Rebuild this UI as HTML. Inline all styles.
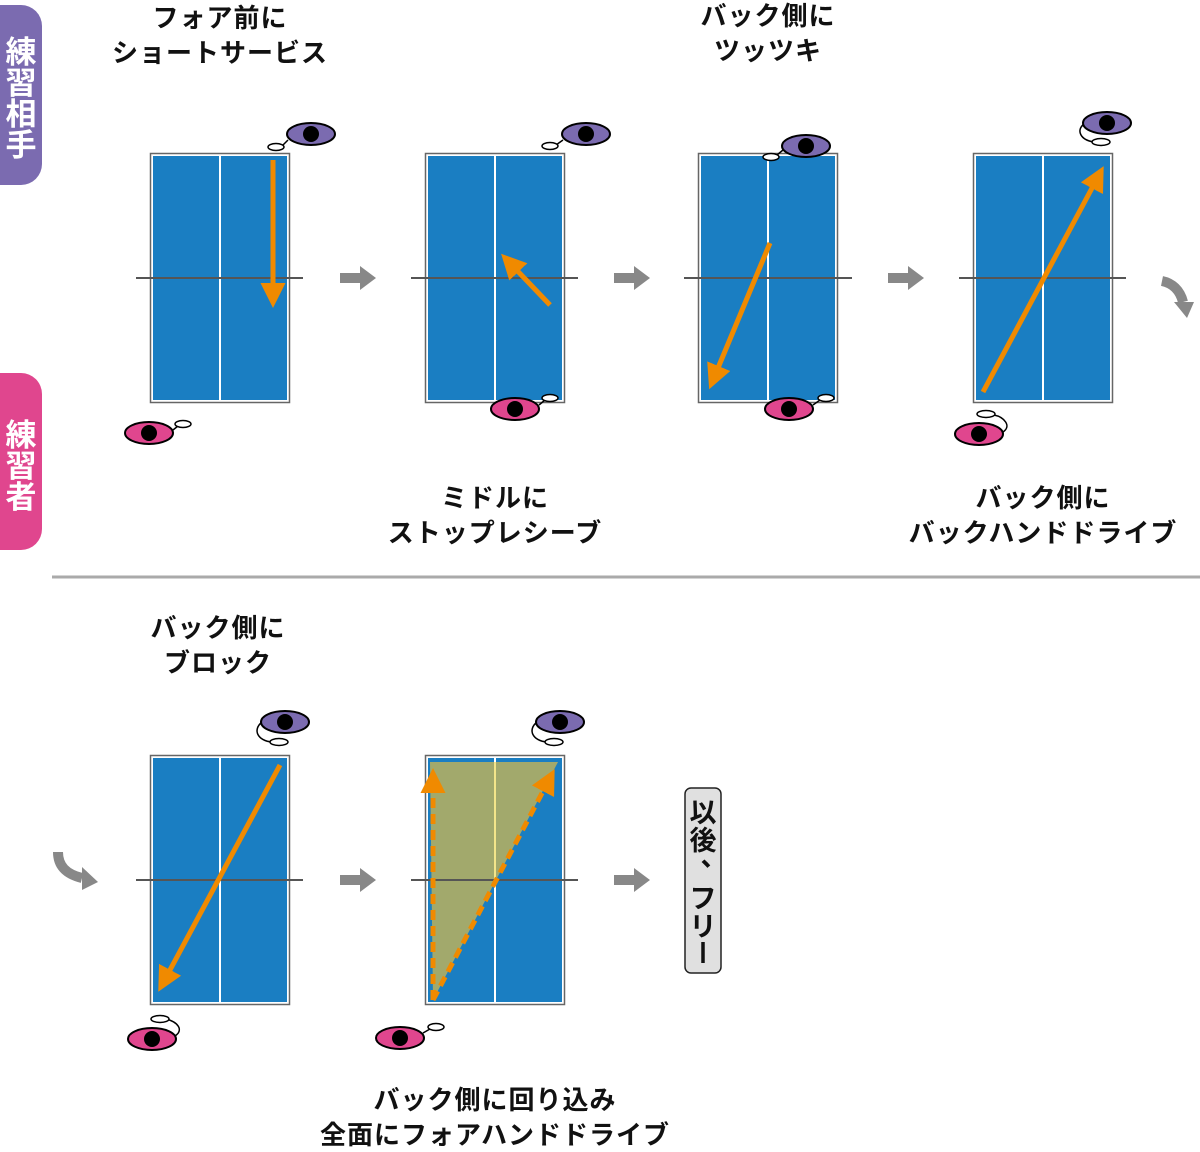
<!DOCTYPE html>
<html><head><meta charset="utf-8"><style>
html,body{margin:0;padding:0;background:#fff;}
svg{display:block}
text{font-family:"Liberation Sans","Noto Sans CJK JP",sans-serif;font-weight:bold;}
</style></head><body>
<svg width="1200" height="1152" viewBox="0 0 1200 1152" xmlns="http://www.w3.org/2000/svg">
<defs>
<g id="tbl">
<rect x="0.5" y="0.5" width="139" height="249" fill="#fff" stroke="#666" stroke-width="1.5"/>
<rect x="3" y="3" width="134" height="244" fill="#1a7ec2"/>
<line x1="70" y1="3" x2="70" y2="247" stroke="#fff" stroke-width="2"/>
</g>
<g id="peye">
<ellipse cx="0" cy="0" rx="24" ry="11" fill="#7b6bb0" stroke="#000" stroke-width="2"/>
<circle cx="0" cy="0" r="8" fill="#000"/>
</g>
<g id="keye">
<ellipse cx="0" cy="0" rx="24" ry="11" fill="#e0468e" stroke="#000" stroke-width="2"/>
<circle cx="0" cy="0" r="8" fill="#000"/>
</g>
<marker id="ah" viewBox="0 0 10 10" refX="6" refY="5" markerWidth="5" markerHeight="5" orient="auto-start-reverse">
<path d="M0,0 L10,5 L0,10 z" fill="#f08a00"/>
</marker>
<g id="garr"><path d="M0,-5 H20 V-12 L36,0 L20,12 V5 H0 z" fill="#888"/></g>
</defs>

<rect x="-20" y="5" width="62" height="180" rx="21" fill="#7b6bb0"/>
<g font-size="31" fill="#fff" text-anchor="middle">
<text x="21" y="63">練</text>
<text x="21" y="94">習</text>
<text x="21" y="125">相</text>
<text x="21" y="156">手</text>
</g>
<rect x="-20" y="373" width="62" height="177" rx="21" fill="#e0468e"/>
<g font-size="31" fill="#fff" text-anchor="middle">
<text x="21" y="446">練</text>
<text x="21" y="477">習</text>
<text x="21" y="508">者</text>
</g>

<line x1="52" y1="577" x2="1200" y2="577" stroke="#aaa" stroke-width="3"/>

<g font-size="26" fill="#111" text-anchor="middle" letter-spacing="1">
<text x="220" y="27">フォア前に</text>
<text x="220" y="62">ショートサービス</text>
<text x="768" y="25">バック側に</text>
<text x="768" y="60">ツッツキ</text>
<text x="495" y="507">ミドルに</text>
<text x="495" y="542">ストップレシーブ</text>
<text x="1043" y="507">バック側に</text>
<text x="1043" y="542">バックハンドドライブ</text>
<text x="218" y="637">バック側に</text>
<text x="218" y="672">ブロック</text>
<text x="495" y="1109">バック側に回り込み</text>
<text x="495" y="1144">全面にフォアハンドドライブ</text>
</g>

<use href="#tbl" x="150" y="153"/>
<use href="#tbl" x="425" y="153"/>
<use href="#tbl" x="698" y="153"/>
<use href="#tbl" x="973" y="153"/>
<use href="#tbl" x="150" y="755"/>
<use href="#tbl" x="425" y="755"/>

<polygon points="433,1000 430,762 558,762" fill="#a2a96c"/>
<line x1="495" y1="762" x2="495" y2="880" stroke="#f3e58a" stroke-width="2"/>

<g stroke="#555" stroke-width="2">
<line x1="136" y1="278" x2="303" y2="278"/>
<line x1="411" y1="278" x2="578" y2="278"/>
<line x1="684" y1="278" x2="852" y2="278"/>
<line x1="959" y1="278" x2="1126" y2="278"/>
<line x1="136" y1="880" x2="303" y2="880"/>
<line x1="411" y1="880" x2="578" y2="880"/>
</g>

<g stroke="#f08a00" stroke-width="5" fill="none" marker-end="url(#ah)">
<line x1="273" y1="160" x2="273" y2="298"/>
<line x1="550" y1="305" x2="508" y2="261"/>
<line x1="770" y1="243" x2="713" y2="380"/>
<line x1="983" y1="392" x2="1099" y2="175"/>
<line x1="280" y1="765" x2="163" y2="983"/>
</g>
<g stroke="#f08a00" stroke-width="5" fill="none" stroke-dasharray="10,6" marker-end="url(#ah)">
<line x1="433" y1="1000" x2="433" y2="778"/>
<line x1="433" y1="1000" x2="550" y2="778"/>
</g>

<g fill="#fff" stroke="#000" stroke-width="1.5">
<path d="M288,140 L282,146" fill="none"/><ellipse cx="276" cy="147" rx="8" ry="3.5"/>
<path d="M173,430 L178,426" fill="none"/><ellipse cx="183" cy="424" rx="8" ry="3.5"/>
<path d="M563,140 L556,145" fill="none"/><ellipse cx="550" cy="146" rx="8" ry="3.5"/>
<path d="M539,405 L545,400" fill="none"/><ellipse cx="550" cy="398" rx="8" ry="3.5"/>
<path d="M783,150 L777,155" fill="none"/><ellipse cx="771" cy="157" rx="8" ry="3.5"/>
<path d="M813,405 L820,400" fill="none"/><ellipse cx="826" cy="398" rx="8" ry="3.5"/>
<path d="M1084,124 C1076,130 1080,140 1094,142" fill="none"/><ellipse cx="1101" cy="142" rx="9" ry="3.5"/>
<path d="M1003,432 C1012,426 1004,417 994,415" fill="none"/><ellipse cx="986" cy="414" rx="9" ry="3.5"/>
<path d="M262,722 C252,730 258,741 272,742" fill="none"/><ellipse cx="279" cy="742" rx="9" ry="3.5"/>
<path d="M175,1036 C184,1030 178,1022 166,1019" fill="none"/><ellipse cx="160" cy="1019" rx="9" ry="3.5"/>
<path d="M537,722 C527,730 533,741 547,742" fill="none"/><ellipse cx="554" cy="742" rx="9" ry="3.5"/>
<path d="M423,1033 L430,1029" fill="none"/><ellipse cx="436" cy="1027" rx="8" ry="3.5"/>
</g>
<use href="#peye" x="311" y="134"/>
<use href="#keye" x="149" y="433"/>
<use href="#peye" x="586" y="134"/>
<use href="#keye" x="515" y="409"/>
<use href="#peye" x="806" y="146"/>
<use href="#keye" x="789" y="409"/>
<use href="#peye" x="1107" y="123"/>
<use href="#keye" x="979" y="434"/>
<use href="#peye" x="285" y="722"/>
<use href="#keye" x="152" y="1039"/>
<use href="#peye" x="560" y="722"/>
<use href="#keye" x="400" y="1038"/>

<use href="#garr" x="340" y="278"/>
<use href="#garr" x="614" y="278"/>
<use href="#garr" x="888" y="278"/>
<use href="#garr" x="340" y="880"/>
<use href="#garr" x="614" y="880"/>
<path d="M1162,281 C1172,283 1180,290 1183,302" stroke="#888" stroke-width="10" fill="none"/>
<path d="M1174,302 L1194,302 L1187,318 z" fill="#888"/>
<path d="M58,852 C58,866 66,874 82,878" stroke="#888" stroke-width="10" fill="none"/>
<path d="M82,867 L98,882 L82,890 z" fill="#888"/>

<rect x="685" y="788" width="36" height="185" rx="6" fill="#e0e0e0" stroke="#222" stroke-width="1.5"/>
<g font-size="27" fill="#111" text-anchor="middle">
<text x="703" y="822">以</text>
<text x="703" y="850">後</text>
<text x="714" y="866">、</text>
<text x="703" y="908">フ</text>
<text x="703" y="936">リ</text>
</g>
<line x1="703" y1="942" x2="703" y2="963" stroke="#111" stroke-width="3.5"/>
</svg>
</body></html>
